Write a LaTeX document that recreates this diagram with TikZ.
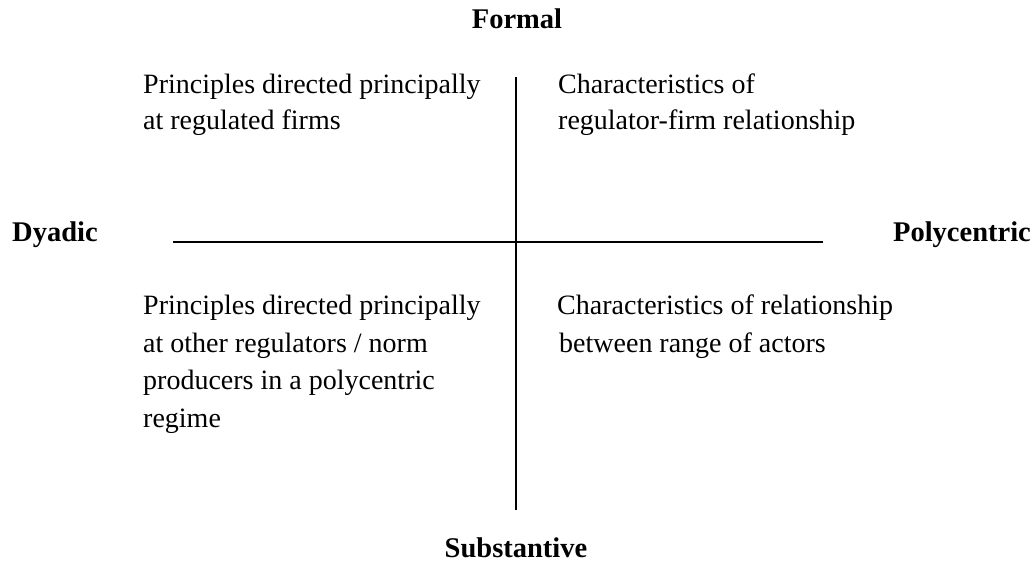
\documentclass[tikz,border=0pt]{standalone}
\usepackage{fontspec}
\setmainfont{Liberation Serif}
\begin{document}
\begin{tikzpicture}[x=1pt,y=1pt,
  quad/.style={anchor=base west,inner sep=0pt,align=left,
    font=\fontsize{28}{36.5}\selectfont},
  quadlow/.style={quad,font=\fontsize{28}{37.5}\selectfont},
  axis/.style={inner sep=0pt,font=\fontsize{28.5}{32}\selectfont\bfseries},
  axisline/.style={line width=1.8pt}]
\useasboundingbox (0,0) rectangle (1036,-564);
\coordinate (top) at (516,-77);
\coordinate (bot) at (516,-510);
\coordinate (lft) at (173,-242);
\coordinate (rgt) at (823,-242);
\draw[axisline] (top) -- (bot);
\draw[axisline] (lft) -- (rgt);
\node[axis,anchor=base] (formal) at (517,-29) {Formal};
\node[axis,anchor=base] (subst) at (516,-557) {Substantive};
\node[axis,anchor=base west] (dyadic) at (12,-241) {Dyadic};
\node[axis,anchor=base east] (poly) at (1031,-241) {Polycentric};
% base anchor of a multi-line node sits on its last line
\node[quad] (tl) at (143,-130) {Principles directed principally\\at regulated firms};
\node[quad] (tr) at (558,-130) {Characteristics of\\regulator-firm relationship};
\node[quadlow] (bl) at (143,-427) {Principles directed principally\\at other regulators / norm\\producers in a polycentric\\regime};
\node[quadlow] (br) at (557,-352) {Characteristics of relationship\\\hspace*{2pt}between range of actors};
\end{tikzpicture}
\end{document}
